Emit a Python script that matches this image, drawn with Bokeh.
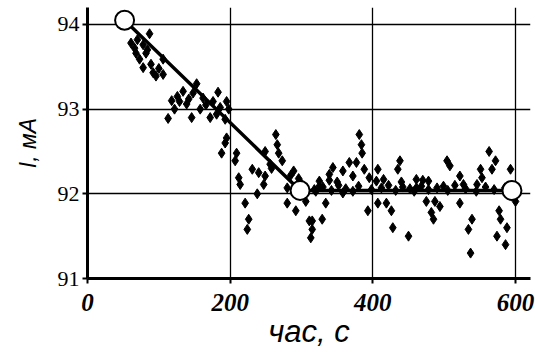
from bokeh.plotting import figure
from bokeh.models import FixedTicker, Range1d
from bokeh.embed import file_html
from bokeh.resources import INLINE

# scatter measurements: time (s) and current (mA)
t_pts = [61, 66, 68, 73, 78, 78, 82, 87, 89, 92, 96, 106, 106,
         113, 118, 122, 129, 134, 139, 146, 148, 153, 158, 162, 172, 176, 181, 183, 193, 195, 195, 198,
         188, 193, 207, 209, 212, 214, 221, 224, 226, 231, 238, 240, 247, 249, 249, 256,
         264, 266, 268, 273, 280, 280, 289, 292, 306, 311, 313, 315, 320,
         315, 325, 329, 334, 339, 344, 358, 358, 367, 372, 377, 381, 384, 385, 388, 393, 395,
         407, 407, 419, 426, 428, 435, 438, 450, 461, 461,
         475, 482, 485, 487, 494, 499, 504, 508, 522, 522, 527, 534, 537, 539, 546, 551, 553,
         563, 567, 572, 574, 577, 579, 586, 588, 593, 600,
         318, 330, 342, 352, 362, 372, 380, 398, 412, 422, 432, 442, 452, 458, 468, 478,
         490, 505, 515, 530, 545, 558, 570, 585,
         325, 339, 350, 405, 415, 440, 470, 478, 300, 296, 285, 258,
         70, 84, 100, 126, 142, 166, 186]
i_pts = [93.78, 93.72, 93.66, 93.59, 93.76, 93.49, 93.66, 93.89, 93.53, 93.43, 93.39, 93.59, 93.41,
         92.89, 93.10, 93.00, 93.09, 93.21, 93.06, 92.90, 93.19, 93.30, 93.00, 93.13, 92.90, 93.09, 92.94, 93.20, 92.88, 93.09, 92.66, 93.00,
         92.48, 92.60, 92.39, 92.48, 92.19, 92.11, 91.89, 91.58, 91.70, 92.29, 92.00, 92.25, 92.11, 92.21, 92.50, 92.35,
         92.70, 92.58, 92.48, 92.39, 92.07, 91.89, 92.27, 91.80, 91.91, 91.68, 91.48, 91.58, 92.03,
         91.68, 92.09, 91.70, 91.89, 92.23, 92.31, 92.27, 92.01, 92.37, 92.21, 92.37, 92.70, 92.58, 92.48, 92.29, 91.80, 92.19,
         92.29, 91.89, 91.89, 91.80, 91.60, 92.29, 92.39, 91.50, 92.07, 92.17,
         91.91, 91.78, 91.70, 91.91, 91.85, 92.09, 92.39, 92.33, 92.21, 91.89, 92.11, 91.58, 91.30, 91.70, 92.11, 92.29, 92.19,
         92.50, 92.29, 92.39, 91.50, 91.80, 91.70, 91.40, 91.60, 92.29, 91.91,
         92.05, 92.08, 92.04, 92.10, 92.06, 92.03, 92.09, 92.05, 92.07, 92.10, 92.04, 92.08, 92.06, 92.03, 92.09, 92.05,
         92.07, 92.04, 92.10, 92.06, 92.03, 92.08, 92.05, 92.07,
         92.15, 92.16, 92.14, 92.15, 92.17, 92.14, 92.16, 92.15, 92.12, 92.18, 92.22, 92.30,
         93.82, 93.70, 93.48, 93.15, 93.12, 93.05, 93.02]

# fitted piecewise line (breakpoints)
t_fit = [52, 298, 595]
i_fit = [94.05, 92.04, 92.04]

x_ticks = [0, 200, 400, 600]
y_ticks = [91, 92, 93, 94]

p = figure(width=535, height=354, output_backend="svg", toolbar_location=None,
           x_range=Range1d(0, 621), y_range=Range1d(91, 94.2),
           min_border_left=87, min_border_right=5, min_border_top=7, min_border_bottom=76)
p.outline_line_color = None
p.background_fill_color = "white"
p.border_fill_color = "white"

p.xaxis.ticker = FixedTicker(ticks=x_ticks)
p.yaxis.ticker = FixedTicker(ticks=y_ticks)
p.xgrid.ticker = FixedTicker(ticks=x_ticks[1:])
p.ygrid.ticker = FixedTicker(ticks=y_ticks[1:])
for g in (p.xgrid, p.ygrid):
    g.grid_line_color = "black"
    g.grid_line_width = 1.3
    g.grid_line_alpha = 1

for ax in (p.xaxis, p.yaxis):
    ax.axis_line_width = 3
    ax.axis_line_color = "black"
    ax.major_tick_line_width = 2
    ax.major_tick_line_color = "black"
    ax.major_tick_out = 5
    ax.major_tick_in = 0
    ax.minor_tick_line_color = None
    ax.major_label_text_color = "black"
    ax.axis_label_text_color = "black"

p.xaxis.major_label_text_font = "Liberation Serif"
p.xaxis.major_label_text_font_style = "bold italic"
p.xaxis.major_label_text_font_size = "25px"
p.xaxis.major_label_standoff = 10
p.xaxis.axis_label = "час, с"
p.xaxis.axis_label_text_font = "Liberation Sans"
p.xaxis.axis_label_text_font_style = "italic"
p.xaxis.axis_label_text_font_size = "31px"
p.xaxis.axis_label_standoff = 0

p.yaxis.major_label_text_font = "Liberation Serif"
p.yaxis.major_label_text_font_size = "22px"
p.yaxis.major_label_standoff = 3
p.yaxis.axis_label = "I, мА"
p.yaxis.axis_label_text_font = "Liberation Sans"
p.yaxis.axis_label_text_font_style = "italic"
p.yaxis.axis_label_text_font_size = "23px"
p.yaxis.axis_label_standoff = 14

p.scatter(t_pts, i_pts, marker="diamond", size=10, color="black")
p.line(t_fit, i_fit, line_width=3.5, color="black")
p.scatter(t_fit, i_fit, marker="circle", size=19, fill_color="white",
          line_color="black", line_width=2)

open("out.html", "w").write(file_html(p, INLINE))
